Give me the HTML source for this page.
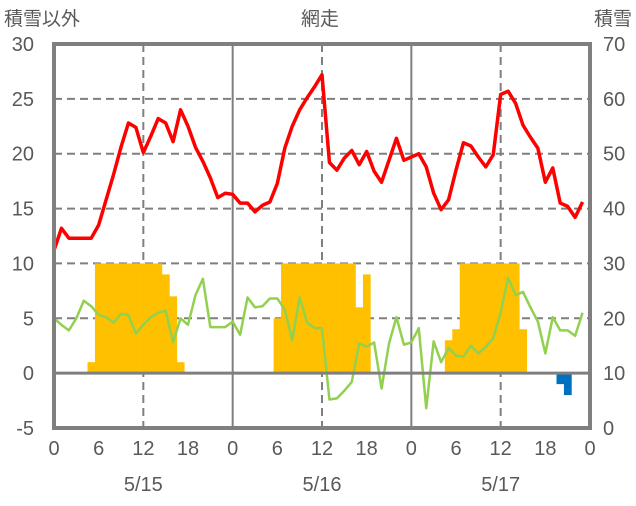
<!DOCTYPE html>
<html><head><meta charset="utf-8">
<style>
body{margin:0;background:#fff;}
svg text{font-family:"Liberation Sans","Noto Sans CJK JP",sans-serif;fill:#595959;}
</style></head>
<body>
<svg id="chart" width="636" height="501" viewBox="0 0 636 501" xmlns="http://www.w3.org/2000/svg">
<g id="grid"></g>
<g id="bars"></g>
<g id="lines"></g>
<g id="axes"></g>
<text x="320" y="25" font-size="19" text-anchor="middle">網走</text>
<text x="4" y="25" font-size="19">積雪以外</text>
<text x="632" y="25" font-size="19" text-anchor="end">積雪</text>
</svg>
<script>
const redValues=[11.2,13.2,12.3,12.3,12.3,12.3,13.5,15.8,18.1,20.6,22.8,22.4,20.1,21.6,23.2,22.8,21.1,24.0,22.5,20.6,19.3,17.8,16.0,16.4,16.3,15.5,15.5,14.7,15.3,15.6,17.3,20.5,22.5,24.0,25.1,26.1,27.2,19.2,18.5,19.6,20.3,19.0,20.2,18.4,17.4,19.4,21.4,19.4,19.7,20.0,18.8,16.4,14.9,15.8,18.5,21.0,20.7,19.7,18.8,19.9,25.4,25.7,24.6,22.6,21.5,20.5,17.4,18.7,15.5,15.2,14.2,15.6];
const greenValues=[5.0,4.4,3.9,5.0,6.6,6.1,5.3,5.1,4.6,5.4,5.3,3.6,4.4,5.1,5.5,5.7,2.8,5.0,4.4,7.1,8.6,4.2,4.2,4.2,4.7,3.5,6.9,6.0,6.1,6.8,6.8,5.8,3.0,6.9,4.6,4.1,4.1,-2.4,-2.3,-1.6,-0.8,2.7,2.4,2.8,-1.4,2.7,5.1,2.6,2.8,4.1,-3.2,2.9,1.0,2.3,1.6,1.5,2.5,1.8,2.4,3.2,5.5,8.7,7.1,7.4,6.0,4.7,1.8,5.1,3.9,3.9,3.4,5.5];
const barHours=[5,6,7,8,9,10,11,12,13,14,15,16,17,30,31,32,33,34,35,36,37,38,39,40,41,42,53,54,55,56,57,58,59,60,61,62,63,68,69];
const barValues=[1,10,10,10,10,10,10,10,10,10,9,7,1,5,10,10,10,10,10,10,10,10,10,10,6,9,3,4,10,10,10,10,10,10,10,10,4,-1,-2];
const leftTicks=[-5,0,5,10,15,20,25,30];
const rightTicks=[0,10,20,30,40,50,60,70];
const hourTicks=[0,6,12,18,0,6,12,18,0,6,12,18,0];
const dateLabels=["5/15","5/16","5/17"];

const X0=54,X1=590,Y0=428,Y1=44;
const x=h=>X0+(X1-X0)*h/72;
const y=v=>Y0-(Y0-Y1)*(v+5)/35;
const NS="http://www.w3.org/2000/svg";
function mk(tag,parent,attrs){const e=document.createElementNS(NS,tag);for(const k in attrs)e.setAttribute(k,attrs[k]);parent.appendChild(e);return e;}
const grid=document.getElementById('grid'),bars=document.getElementById('bars'),lines=document.getElementById('lines'),axes=document.getElementById('axes');

leftTicks.forEach(v=>{if(v>-5&&v<30&&v!==0){const l=mk('line',grid,{x1:X0,x2:X1,y1:y(v),y2:y(v),stroke:'#7f7f7f','stroke-width':2,'stroke-dasharray':'8,5'});

}});
[12,36,60].forEach(h=>{const l=mk('line',grid,{x1:x(h),x2:x(h),y1:Y1,y2:Y0,stroke:'#7f7f7f','stroke-width':2,'stroke-dasharray':'8,5'});

});
[24,48].forEach(h=>{const l=mk('line',grid,{x1:x(h),x2:x(h),y1:Y1,y2:Y0,stroke:'#7f7f7f','stroke-width':2});

});

const bw=(X1-X0)/72;
barHours.forEach((h,i)=>{const v=barValues[i];const top=Math.min(y(v),y(0)),bot=Math.max(y(v),y(0));
const r=mk('rect',bars,{x:x(h)-bw/2,y:top,width:bw+0.3,height:bot-top,fill:v<0?'#0070c0':'#ffc000'});

});

const zl=mk('line',axes,{x1:X0,x2:X1,y1:y(0),y2:y(0),stroke:'#7f7f7f','stroke-width':3});



const gp=mk('polyline',lines,{points:greenValues.map((v,h)=>x(h)+','+y(v)).join(' '),fill:'none',stroke:'#92d050','stroke-width':2.5,'stroke-linejoin':'round'});


const rp=mk('polyline',lines,{points:redValues.map((v,h)=>x(h)+','+y(v)).join(' '),fill:'none',stroke:'#ff0000','stroke-width':3.5,'stroke-linejoin':'round'});



const fr=mk('rect',axes,{x:X0,y:Y1,width:X1-X0,height:Y0-Y1,fill:'none',stroke:'#7f7f7f','stroke-width':4});



leftTicks.forEach(v=>{const t=mk('text',axes,{x:34,y:y(v)+7,'font-size':20,'text-anchor':'end'});t.textContent=v;

});
rightTicks.forEach((v,i)=>{const t=mk('text',axes,{x:603,y:y(leftTicks[i])+7,'font-size':20});t.textContent=v;

});
hourTicks.forEach((v,i)=>{const t=mk('text',axes,{x:x(i*6),y:455,'font-size':20,'text-anchor':'middle'});t.textContent=v;

});
dateLabels.forEach((d,i)=>{const t=mk('text',axes,{x:x(12+24*i),y:491,'font-size':20,'text-anchor':'middle'});t.textContent=d;

});
</script>
</body></html>
